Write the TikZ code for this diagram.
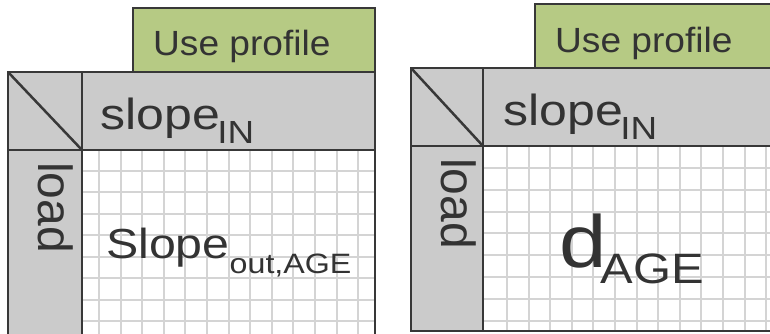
\documentclass[tikz,border=0pt]{standalone}
\usepackage{fontspec}
\setmainfont{Liberation Sans}
\newfontfamily\widesans[FakeStretch=1.15]{Liberation Sans}
\newfontfamily\profilefont[FakeStretch=1.06]{Liberation Sans}
\usepackage{xcolor}
\definecolor{profilegreen}{RGB}{182,202,132}
\definecolor{headgray}{RGB}{203,203,203}
\definecolor{gridgray}{RGB}{212,212,212}
\definecolor{edgedark}{RGB}{56,56,56}
\definecolor{inkdark}{RGB}{51,51,51}
\newcommand{\fsz}[1]{\fontsize{#1pt}{#1pt}\selectfont}

\begin{document}
\begin{tikzpicture}[x=1pt, y=-1pt,
    edge/.style={draw=edgedark, line width=2.5pt},
    gridline/.style={draw=gridgray, line width=2pt},
    lbl/.style={inner sep=0pt, anchor=base west, text=inkdark}]
    \useasboundingbox (0,0) rectangle (770,333);
    \clip (0,0) rectangle (770,333);

    % Left table: white grid body
    \fill[white] (82,150) rectangle (375,345);
    \begin{scope}
      \clip (82,150) rectangle (375,345);
      \foreach \gx in {0,...,12} \draw[gridline] ({99+21.6*\gx},150) -- ({99+21.6*\gx},345);
      \foreach \gy in {0,...,7} \draw[gridline] (82,{170.7+21.5*\gy}) -- (375,{170.7+21.5*\gy});
    \end{scope}

    % Left table: header cells
    \fill[profilegreen] (133,8) rectangle (375,72);
    \fill[headgray] (8,72) rectangle (375,150);
    \fill[headgray] (8,150) rectangle (82,345);

    % Left table: labels
    \node[lbl, font=\profilefont\fsz{35}] (useL) at (153,55) {Use profile};
    \node[lbl, font=\widesans\fsz{43.5}] (slopeL) at (100.5,129) {slope\kern-3pt\raisebox{-14pt}{\fsz{32}IN}};
    \node[lbl, font=\fsz{48}, rotate=-90] (loadL) at (38,162) {load};
    \node[lbl, font=\widesans\fsz{42}] (slopeoutL) at (106,258) {Slope\raisebox{-15pt}{\fsz{28}out,AGE}};

    % Left table: borders
    \draw[edge] (133,72) -- (133,8) -- (375,8) -- (375,345);
    \draw[edge] (8,345) -- (8,72) -- (375,72);
    \draw[edge] (8,150) -- (375,150);
    \draw[edge] (82,72) -- (82,345);
    \draw[edge] (8,72) -- (82,150);

    % Right table: white grid body
    \fill[white] (483,146) rectangle (780,331);
    \begin{scope}
      \clip (483,146) rectangle (780,331);
      \foreach \gx in {0,...,12} \draw[gridline] ({507+21.6*\gx},146) -- ({507+21.6*\gx},331);
      \foreach \gy in {0,...,7} \draw[gridline] (483,{168+21.8*\gy}) -- (780,{168+21.8*\gy});
    \end{scope}

    % Right table: header cells
    \fill[profilegreen] (535,4) rectangle (780,68);
    \fill[headgray] (411,68) rectangle (780,146);
    \fill[headgray] (411,146) rectangle (483,331);

    % Right table: labels
    \node[lbl, font=\profilefont\fsz{35}] (useR) at (555,52) {Use profile};
    \node[lbl, font=\widesans\fsz{43.5}] (slopeR) at (503.5,125.5) {slope\kern-3pt\raisebox{-14pt}{\fsz{32}IN}};
    \node[lbl, font=\fsz{48}, rotate=-90] (loadR) at (441,158) {load};
    \node[lbl, font=\widesans\fsz{74}] (dageR) at (559,267) {d\kern-6pt\raisebox{-16pt}{\fsz{42.5}AGE}};

    % Right table: borders
    \draw[edge] (535,68) -- (535,4) -- (780,4);
    \draw[edge] (780,68) -- (411,68) -- (411,331) -- (780,331);
    \draw[edge] (411,146) -- (780,146);
    \draw[edge] (483,68) -- (483,331);
    \draw[edge] (411,68) -- (483,146);
\end{tikzpicture}
\end{document}
